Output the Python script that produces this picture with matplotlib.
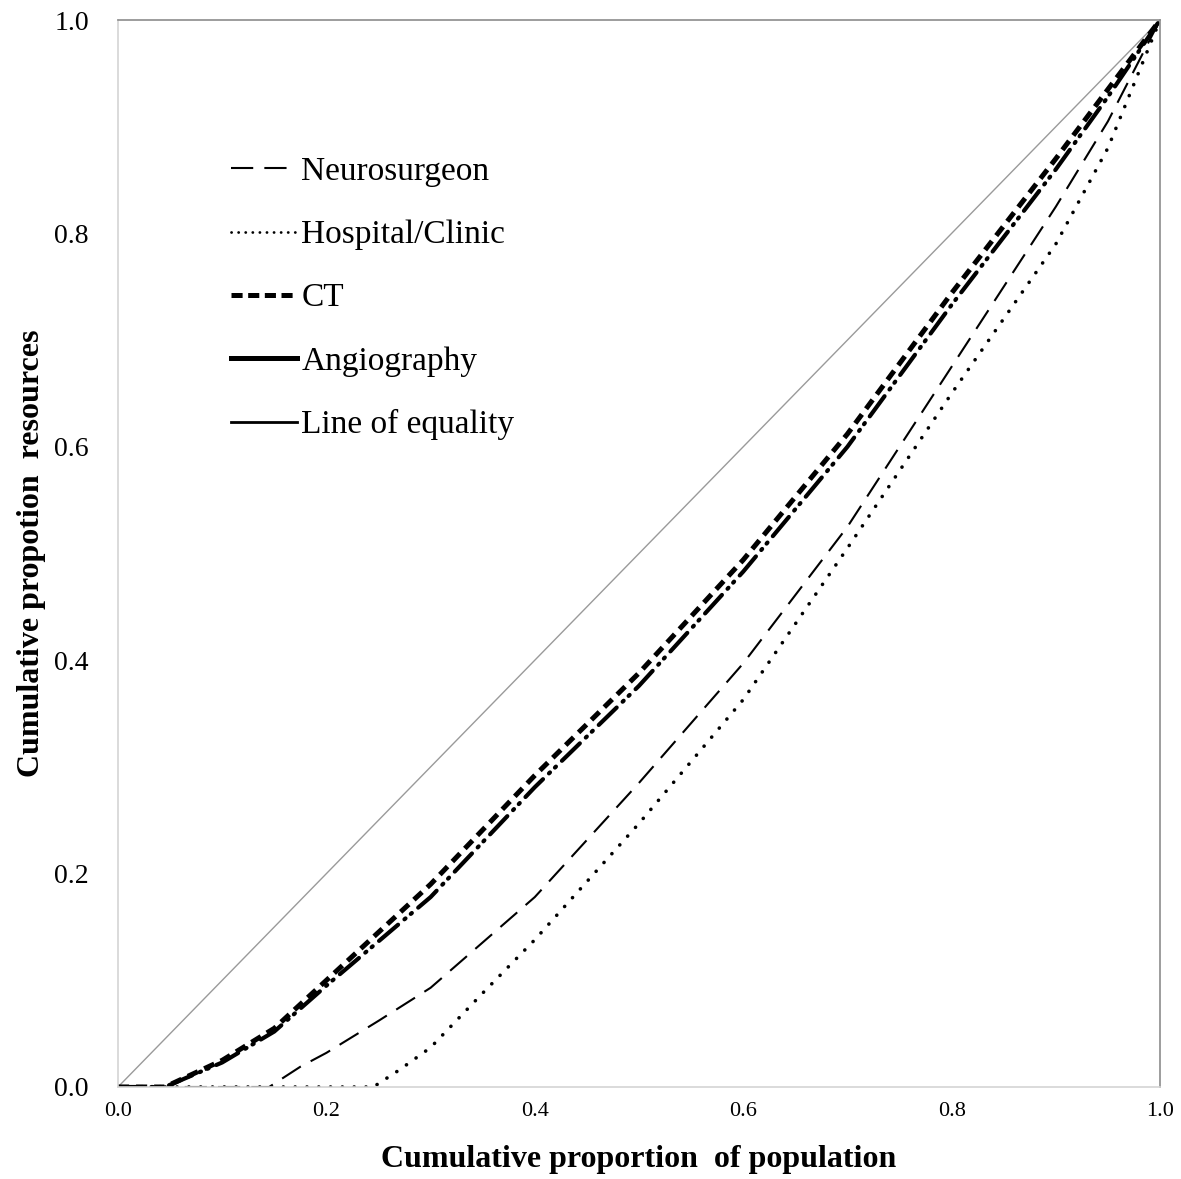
import matplotlib
matplotlib.use("Agg")
import matplotlib.pyplot as plt
from matplotlib.lines import Line2D

plt.rcParams['font.family'] = ['Liberation Serif', 'DejaVu Serif']
plt.rcParams['lines.scale_dashes'] = False

# Lorenz curves
x_ct = [0, 0.045, 0.1, 0.15, 0.2, 0.3, 0.4, 0.5, 0.6, 0.7, 0.8, 0.9, 0.95, 1.0]
y_ct = [0, 0, 0.025, 0.055, 0.100, 0.190, 0.292, 0.388, 0.494, 0.612, 0.744, 0.870, 0.935, 1.0]
y_angio = [0, 0, 0.023, 0.052, 0.095, 0.178, 0.281, 0.376, 0.483, 0.600, 0.733, 0.860, 0.928, 1.0]

x_neuro = [0, 0.145, 0.175, 0.2, 0.25, 0.3, 0.4, 0.5, 0.6, 0.7, 0.8, 0.9, 0.95, 1.0]
y_neuro = [0, 0, 0.019, 0.032, 0.062, 0.093, 0.178, 0.285, 0.397, 0.525, 0.675, 0.825, 0.905, 1.0]

x_hosp = [0, 0.245, 0.27, 0.3, 0.35, 0.4, 0.5, 0.6, 0.7, 0.8, 0.9, 0.95, 1.0]
y_hosp = [0, 0, 0.016, 0.037, 0.088, 0.138, 0.247, 0.363, 0.505, 0.650, 0.790, 0.880, 1.0]

ticks = [0.0, 0.2, 0.4, 0.6, 0.8, 1.0]

fig = plt.figure(figsize=(11.81, 11.79), dpi=100)
ax = fig.add_axes([118/1181, 1 - 1087/1179, (1160-118)/1181, (1087-20)/1179])

ax.plot([0, 1], [0, 1], color='#9a9a9a', lw=1.0)
ax.plot(x_neuro, y_neuro, color='black', lw=1.5, dashes=(16, 8))
ax.plot(x_hosp, y_hosp, color='black', lw=2.6, dashes=(0.1, 8.4), dash_capstyle='round')
ax.plot(x_ct, y_ct, color='black', lw=3.6, dashes=(8, 5), dash_capstyle='butt')
ax.plot(x_ct, y_angio, color='black', lw=3.0, dashes=(18, 6, 1, 5, 1, 6), dash_capstyle='round')

ax.set_xlim(0, 1)
ax.set_ylim(0, 1)
ax.set_xticks(ticks)
ax.set_yticks(ticks)
ax.set_xticklabels(['%.1f' % t for t in ticks])
ax.set_yticklabels(['%.1f' % t for t in ticks])
ax.tick_params(axis='both', length=0)
ax.tick_params(axis='y', pad=21, labelsize=20)
ax.tick_params(axis='x', pad=11, labelsize=16)

for s in ['left', 'bottom']:
    ax.spines[s].set_color('#d4d4d4')
for s in ['top', 'right']:
    ax.spines[s].set_color('#8c8c8c')
for s in ax.spines.values():
    s.set_linewidth(1.2)

ax.set_xlabel('Cumulative proportion  of population', fontsize=23, fontweight='bold', labelpad=17)
ax.set_ylabel('Cumulative propotion  resources', fontsize=23, fontweight='bold', labelpad=6)

handles = [
    Line2D([], [], color='black', lw=1.5, dashes=(16, 8)),
    Line2D([], [], color='black', lw=2.0, dashes=(0.1, 5), dash_capstyle='round'),
    Line2D([], [], color='black', lw=3.6, dashes=(8, 4)),
    Line2D([], [], color='black', lw=3.6),
    Line2D([], [], color='black', lw=2.0),
]
labels = ['Neurosurgeon', 'Hospital/Clinic', 'CT', 'Angiography', 'Line of equality']
ax.legend(handles, labels, loc='upper left', bbox_to_anchor=(0.108, 0.872),
          frameon=False, fontsize=24, handlelength=2.0, handletextpad=0.12,
          labelspacing=0.98, borderpad=0, borderaxespad=0)

fig.savefig('out.png', dpi=100)
